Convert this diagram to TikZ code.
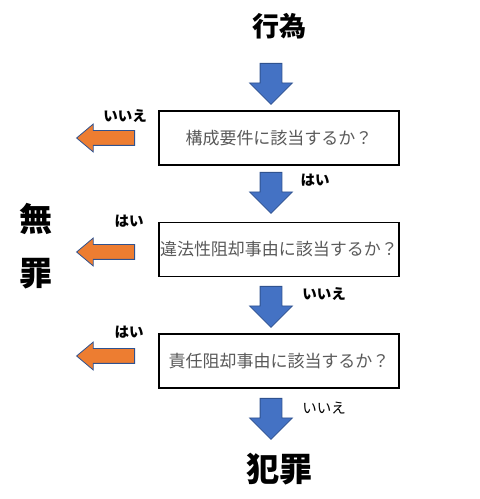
\documentclass[tikz,border=0pt]{standalone}
\usepackage{fontspec}
\usepackage{tikz}
\usetikzlibrary{shapes.arrows,positioning}
\newfontfamily\jp{Noto Sans CJK JP}
\definecolor{officeblue}{HTML}{4472C4}
\definecolor{officeorange}{HTML}{ED7D31}
\definecolor{arrowline}{HTML}{2F528F}
\definecolor{boxtext}{HTML}{595959}

\begin{document}
\begin{tikzpicture}[x=1pt,y=1pt,node distance=111.5pt,font=\jp]
  \tikzstyle{question}=[draw,line width=1.6pt,minimum width=240pt,minimum height=54pt,
                        inner sep=0pt,text=boxtext,font=\jp\fontsize{17}{20}\selectfont]
  \tikzstyle{verdict}=[inner sep=0pt,font=\jp\bfseries\fontsize{33}{36}\selectfont]
  \tikzstyle{answer}=[inner sep=0pt,font=\jp\bfseries\fontsize{14.5}{16}\selectfont]
  \tikzstyle{downarrow}=[single arrow,draw=arrowline,fill=officeblue,line width=0.8pt,
                         rotate=-90,anchor=tail,inner sep=10.5pt,single arrow head extend=10.5pt,
                         minimum height=41pt,minimum width=42pt]
  \tikzstyle{leftarrow}=[single arrow,draw=arrowline,fill=officeorange,line width=0.8pt,
                         rotate=180,anchor=tail,inner sep=7pt,single arrow head extend=6.5pt,
                         single arrow tip angle=80,minimum height=58pt,minimum width=27pt]

  \useasboundingbox (0,0) rectangle (480,499);

  \node[question] (kousei)              at (279,361) {構成要件に該当するか？};
  \node[question] (ihou)    [below of=kousei] {違法性阻却事由に該当するか？};
  \node[question] (sekinin) [below of=ihou]   {責任阻却事由に該当するか？};

  \node[verdict,font=\jp\bfseries\fontsize{27}{30}\selectfont] (koui) at (279,473) {行為};
  \node[verdict] (hanzai) at (279,30)  {犯罪};
  \node[verdict] (mu)     at (36,280)  {無};
  \node[verdict] (zai)    at (36,225)  {罪};

  \node[downarrow] (d1) at (271,436) {};
  \node[downarrow] (d2) at (271,327) {};
  \node[downarrow] (d3) at (271,213) {};
  \node[downarrow] (d4) at (271,101) {};

  \node[leftarrow] (l1) at (135,361) {};
  \node[leftarrow] (l2) at (135,247) {};
  \node[leftarrow] (l3) at (135,143) {};

  \node[answer] (no1)  at (125,383) {いいえ};
  \node[answer] (yes1) at (315,319) {はい};
  \node[answer] (yes2) at (129,278) {はい};
  \node[answer] (no2)  at (324,205) {いいえ};
  \node[answer] (yes3) at (129,167) {はい};
  \node[answer,font=\jp\fontsize{14.5}{16}\selectfont] (no3) at (324,91) {いいえ};
\end{tikzpicture}
\end{document}
